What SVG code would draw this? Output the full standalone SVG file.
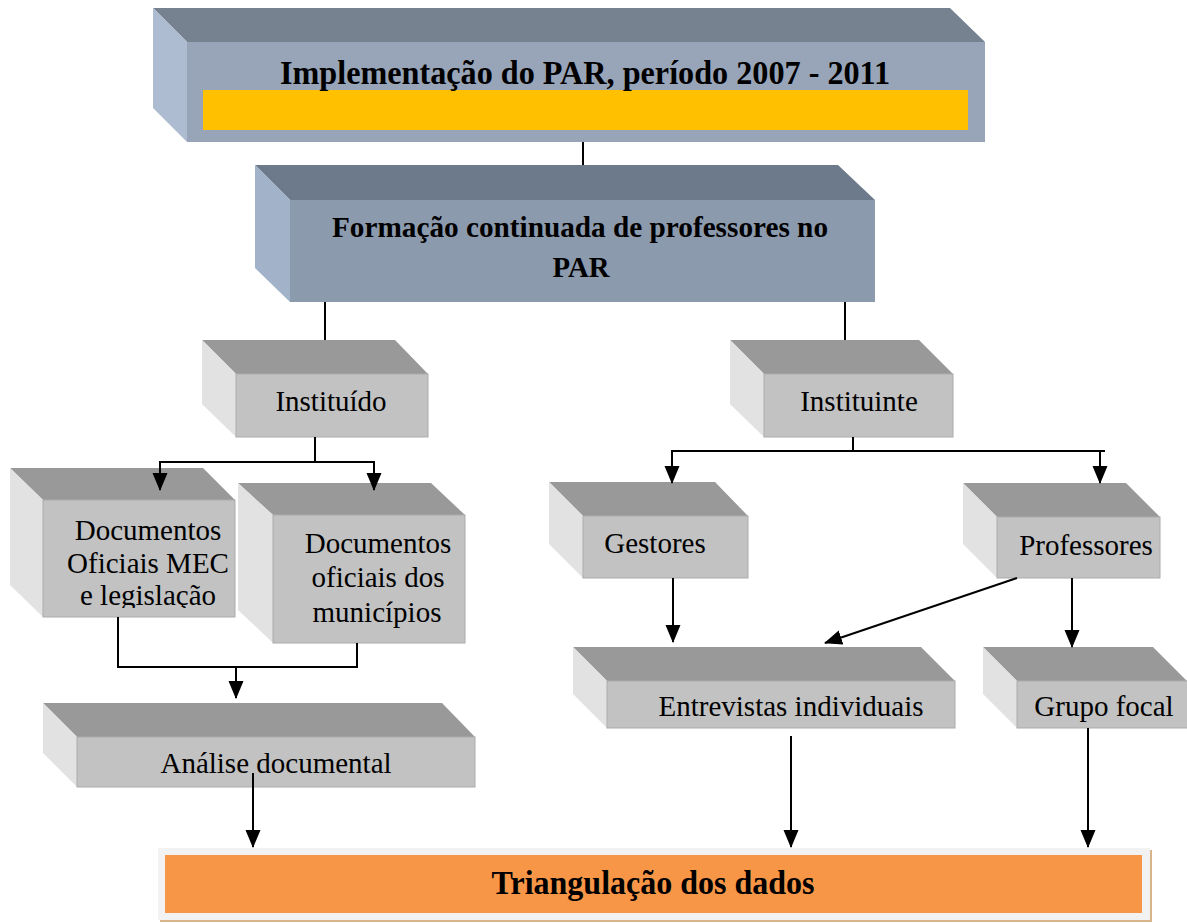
<svg xmlns="http://www.w3.org/2000/svg" width="1187" height="923" viewBox="0 0 1187 923">
<style>
.top{fill:#999999}.front{fill:#C2C2C2;stroke:#ABABAB;stroke-width:1}.side{fill:#E2E2E2}
.t{font-family:"Liberation Serif","Times New Roman",serif;font-size:29px;fill:#000;text-anchor:middle}
.b{font-family:"Liberation Serif","Times New Roman",serif;font-weight:bold;fill:#000;text-anchor:middle}
.ln{stroke:#000;stroke-width:2;fill:none}
</style>
<defs>
<marker id="ar" markerUnits="userSpaceOnUse" markerWidth="18" markerHeight="16" refX="17" refY="8" orient="auto">
<path d="M0,0.5 L18,8 L0,15.5 Z" fill="#000"/>
</marker>
<clipPath id="cmec"><rect x="43" y="500" width="192" height="108"/></clipPath>
</defs>
<rect width="1187" height="923" fill="#fff"/>

<g id="implementacao">
<polygon points="153,8 950,8 985,42 187,42" fill="#76828F"/>
<polygon points="153,8 187,42 187,142 153,108" fill="#AEBCD1"/>
<rect x="187" y="42" width="798" height="100" fill="#98A5B9"/>
<rect x="203" y="90" width="765" height="40" fill="#FFC000"/>
<text class="b" x="585" y="84" font-size="33" textLength="610" lengthAdjust="spacingAndGlyphs">Implementação do PAR, período 2007 - 2011</text>
</g>

<g id="formacao">
<polygon points="255,165 838,165 875,200 290,200" fill="#6D7A8B"/>
<polygon points="255,165 290,200 290,302 255,268" fill="#A2B2C9"/>
<rect x="290" y="200" width="585" height="102" fill="#8C9AAE"/>
<text class="b" x="580" y="237" font-size="30" textLength="496" lengthAdjust="spacingAndGlyphs">Formação continuada de professores no</text>
<text class="b" x="581" y="277" font-size="30" textLength="57" lengthAdjust="spacingAndGlyphs">PAR</text>
</g>

<g id="instituido">
<polygon class="top" points="202,340 395,340 428,374 236,374"/>
<polygon class="side" points="202,340 236,374 236,437 202,404"/>
<rect class="front" x="236" y="374" width="192" height="63"/>
<text class="t" x="331" y="411">Instituído</text>
</g>

<g id="instituinte">
<polygon class="top" points="730,340 919,340 953,374 764,374"/>
<polygon class="side" points="730,340 764,374 764,437 730,404"/>
<rect class="front" x="764" y="374" width="189" height="63"/>
<text class="t" x="859" y="411">Instituinte</text>
</g>

<g id="doc-mec">
<polygon class="top" points="10,468 203,468 235,500 43,500"/>
<polygon class="side" points="10,468 43,500 43,617 10,585"/>
<rect class="front" x="43" y="500" width="192" height="117"/>
<text class="t" x="148" y="540">Documentos</text>
<text class="t" x="148" y="573">Oficiais MEC</text>
<text class="t" x="148" y="605" clip-path="url(#cmec)">e legislação</text>
</g>

<g id="doc-municipios">
<polygon class="top" points="238,483 431,483 465,515 273,515"/>
<polygon class="side" points="238,483 273,515 273,643 238,610"/>
<rect class="front" x="273" y="515" width="192" height="128"/>
<text class="t" x="378" y="553">Documentos</text>
<text class="t" x="378" y="587">oficiais dos</text>
<text class="t" x="377" y="622">municípios</text>
</g>

<g id="analise">
<polygon class="top" points="43,703 442,703 475,737 77,737"/>
<polygon class="side" points="43,703 77,737 77,787 43,753"/>
<rect class="front" x="77" y="737" width="398" height="50"/>
<text class="t" x="276" y="773">Análise documental</text>
</g>

<g id="gestores">
<polygon class="top" points="549,482 715,482 748,516 583,516"/>
<polygon class="side" points="549,482 583,516 583,578 549,544"/>
<rect class="front" x="583" y="516" width="165" height="62"/>
<text class="t" x="655" y="553">Gestores</text>
</g>

<g id="professores">
<polygon class="top" points="963,483 1126,483 1160,517 997,517"/>
<polygon class="side" points="963,483 997,517 997,578 963,544"/>
<rect class="front" x="997" y="517" width="163" height="61"/>
<text class="t" x="1086" y="555">Professores</text>
</g>

<g id="entrevistas">
<polygon class="top" points="573,647 921,647 955,681 607,681"/>
<polygon class="side" points="573,647 607,681 607,728 573,694"/>
<rect class="front" x="607" y="681" width="348" height="47"/>
<text class="t" x="791" y="716">Entrevistas individuais</text>
</g>

<g id="grupo-focal">
<polygon class="top" points="983,647 1153,647 1187,681 1017,681"/>
<polygon class="side" points="983,647 1017,681 1017,728 983,694"/>
<rect class="front" x="1017" y="681" width="172" height="47"/>
<text class="t" x="1104" y="716">Grupo focal</text>
</g>

<g id="triangulacao">
<rect x="160" y="850" width="992" height="72" fill="#D9B48A"/>
<rect x="158" y="848" width="992" height="72" fill="#F2F2F2"/>
<rect x="165" y="855" width="977" height="58" fill="#F79646"/>
<text class="b" x="653" y="894" font-size="34" textLength="323" lengthAdjust="spacingAndGlyphs">Triangulação dos dados</text>
</g>

<g id="connectors">
<line class="ln" x1="583" y1="142" x2="583" y2="165"/>
<line class="ln" x1="325" y1="302" x2="325" y2="340"/>
<line class="ln" x1="845" y1="302" x2="845" y2="340"/>
<line class="ln" x1="315" y1="437" x2="315" y2="462"/>
<polyline class="ln" points="160,462 374,462"/>
<line class="ln" x1="160" y1="461" x2="160" y2="490" marker-end="url(#ar)"/>
<line class="ln" x1="374" y1="461" x2="374" y2="490" marker-end="url(#ar)"/>
<polyline class="ln" points="118,617 118,667 357,667 357,643"/>
<line class="ln" x1="236" y1="667" x2="236" y2="698" marker-end="url(#ar)"/>
<line class="ln" x1="253" y1="773" x2="253" y2="847" marker-end="url(#ar)"/>
<line class="ln" x1="853" y1="437" x2="853" y2="451"/>
<polyline class="ln" points="672,451 1105,451"/>
<line class="ln" x1="672" y1="450" x2="672" y2="483" marker-end="url(#ar)"/>
<line class="ln" x1="1100" y1="450" x2="1100" y2="483" marker-end="url(#ar)"/>
<line class="ln" x1="673" y1="578" x2="673" y2="642" marker-end="url(#ar)"/>
<line class="ln" x1="1072" y1="578" x2="1072" y2="647" marker-end="url(#ar)"/>
<line class="ln" x1="1017" y1="578" x2="825" y2="643" marker-end="url(#ar)"/>
<line class="ln" x1="791" y1="736" x2="791" y2="847" marker-end="url(#ar)"/>
<line class="ln" x1="1088" y1="728" x2="1088" y2="847" marker-end="url(#ar)"/>
</g>
</svg>
